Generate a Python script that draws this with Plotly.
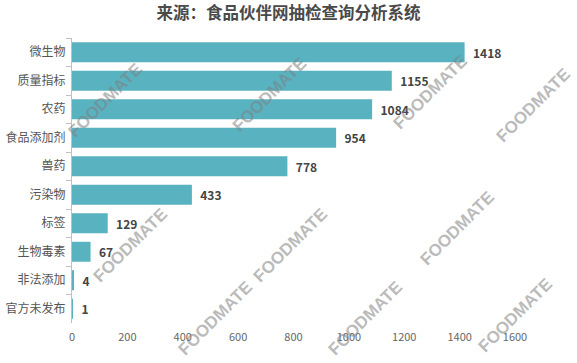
import plotly.graph_objects as go

categories = ["微生物", "质量指标", "农药", "食品添加剂", "兽药", "污染物", "标签", "生物毒素", "非法添加", "官方未发布"]
values = [1418, 1155, 1084, 954, 778, 433, 129, 67, 4, 1]
x_ticks = [0, 200, 400, 600, 800, 1000, 1200, 1400, 1600]

FONT = "Noto Sans CJK SC, Microsoft YaHei, sans-serif"

L, R, T, B = 72, 62, 38, 40
W, H = 577 - L - R, 363 - T - B

fig = go.Figure()
fig.add_trace(go.Bar(
    y=categories, x=values, orientation="h",
    marker=dict(color="#58B2C0", line=dict(width=0)),
    text=[f"&nbsp;&nbsp;<b>{v}</b>" for v in values],
    textposition="outside", cliponaxis=False,
    textfont=dict(family=FONT, size=12, color="#444444"),
    width=0.7,
))

marks = [(105, 100), (270, 95), (430, 92), (533, 105), (130, 245), (290, 245), (457, 228),
         (215, 318), (365, 318), (515, 315)]
for (px, py) in marks:
    fig.add_annotation(x=(px - L) / W, y=1 - (py - T) / H, xref="paper", yref="paper",
                       text="<b>FOODMATE</b>", showarrow=False, textangle=-45,
                       font=dict(family="Liberation Sans, Arial", size=17, color="rgba(128,128,128,0.55)"),
                       xanchor="center", yanchor="middle")

fig.update_layout(
    width=577, height=363,
    margin=dict(l=L, r=R, t=T, b=B, autoexpand=False),
    paper_bgcolor="white", plot_bgcolor="white",
    showlegend=False,
    title=dict(text="<b>来源：食品伙伴网抽检查询分析系统</b>", x=0.5, xanchor="center", y=0.963, yanchor="middle",
               font=dict(family=FONT, size=16.5, color="#4a4a4a")),
    bargap=0.3,
    xaxis=dict(range=[0, 1600], tickvals=x_ticks, showgrid=False, zeroline=False, showline=False,
               tickfont=dict(family=FONT, size=11, color="#666666"), ticks="", ticklabelstandoff=6,
               automargin=False),
    yaxis=dict(autorange="reversed", showline=True, linecolor="#c0c0c0", linewidth=1,
               ticks="outside", ticklen=5, tickcolor="#c0c0c0", tickson="boundaries",
               tickfont=dict(family=FONT, size=12, color="#555555"), showgrid=False,
               ticklabelstandoff=3, automargin=False),
)

fig.write_html("out.html")
